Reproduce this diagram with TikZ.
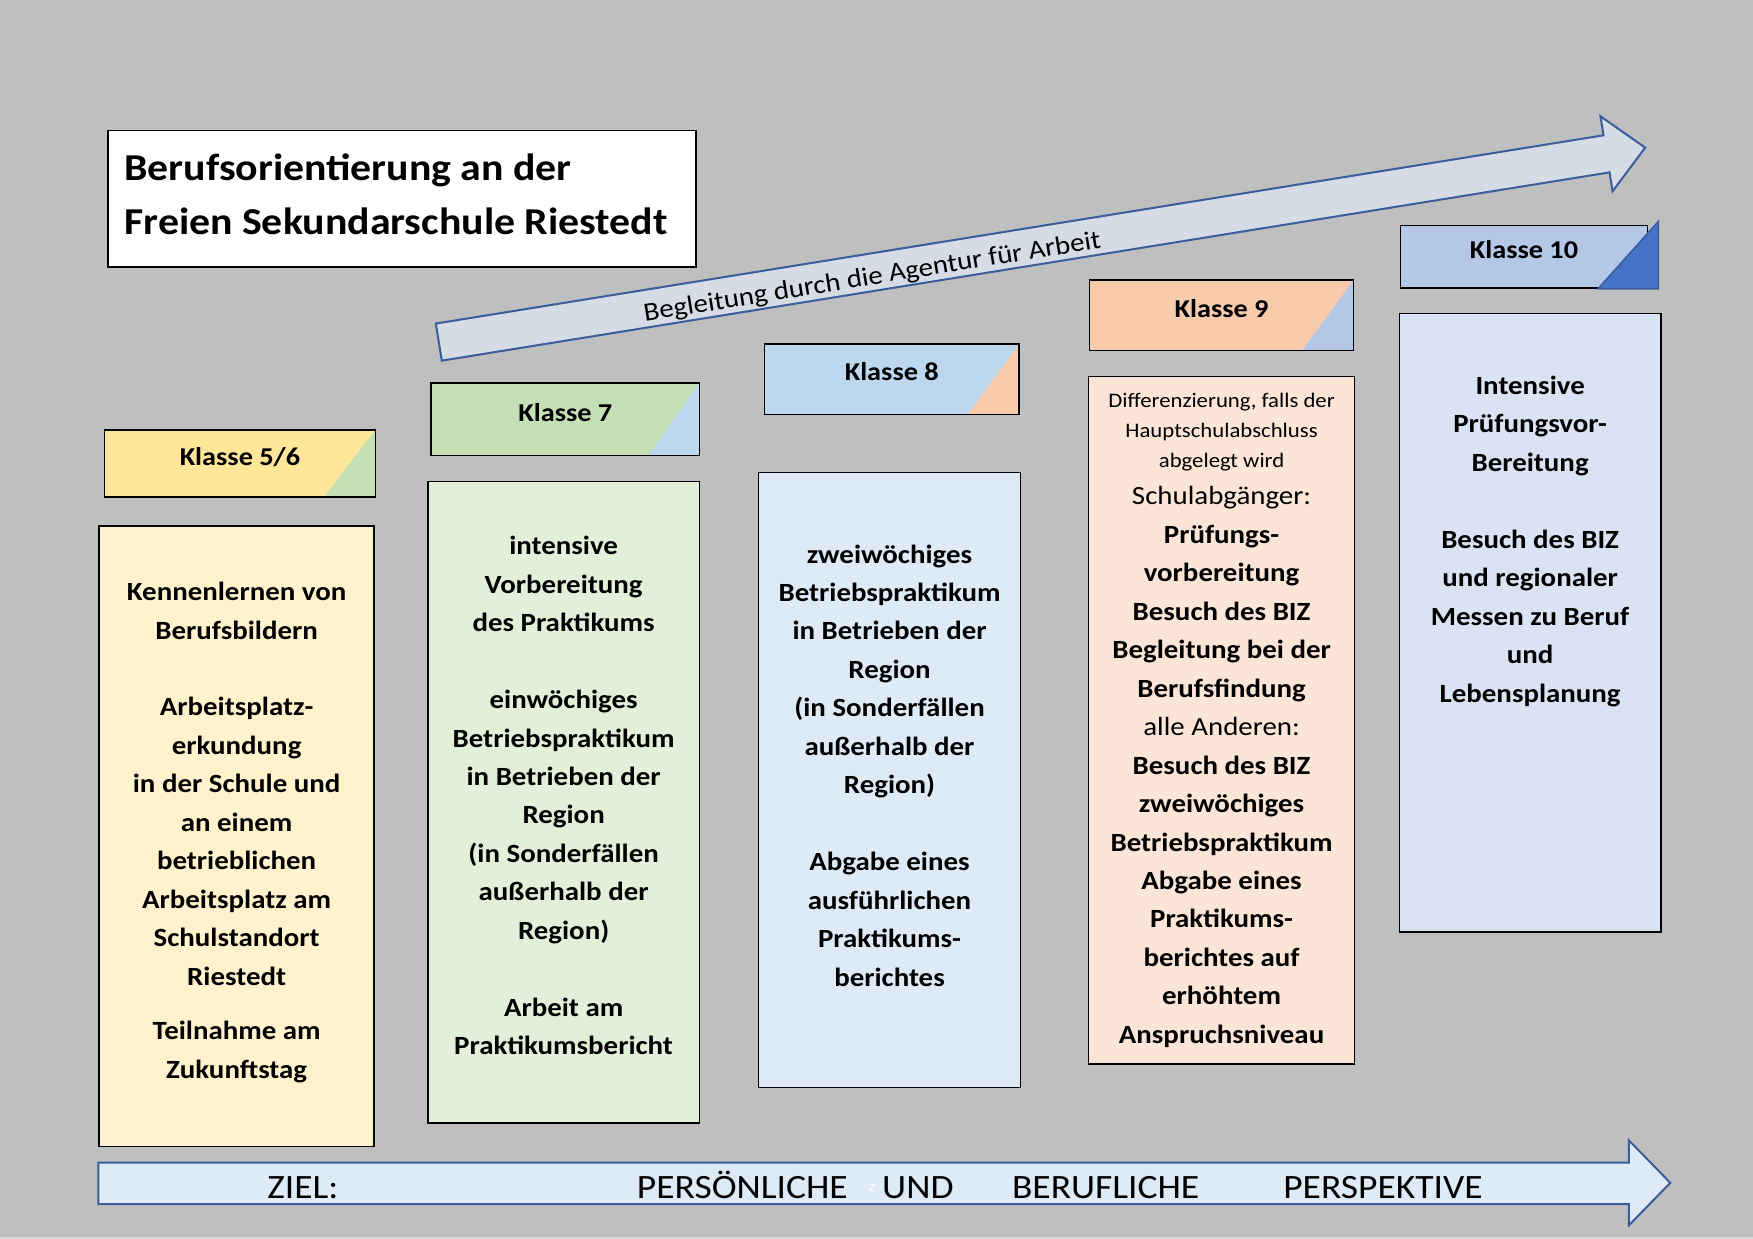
\documentclass[tikz,border=0pt]{standalone}
\usepackage{fontspec}
\setmainfont{Carlito}[FakeStretch=1.1]
\usetikzlibrary{positioning}

\definecolor{hgrau}{HTML}{BFBFBF}
\definecolor{gelb}{HTML}{FFE699}
\definecolor{gelbhell}{HTML}{FFF2CC}
\definecolor{gruen}{HTML}{C5E0B4}
\definecolor{gruenhell}{HTML}{E2F0D9}
\definecolor{blau}{HTML}{BDD7EE}
\definecolor{blauhell}{HTML}{DEEBF7}
\definecolor{lachs}{HTML}{F8CBAD}
\definecolor{lachshell}{HTML}{FBE5D6}
\definecolor{graublau}{HTML}{B4C7E7}
\definecolor{graublauhell}{HTML}{DAE3F3}
\definecolor{dunkelblau}{HTML}{4472C4}
\definecolor{rand}{HTML}{3A5E9C}
\definecolor{pfeil}{HTML}{D6DCE5}

\newcommand{\klein}{\mdseries\fontsize{18.5}{27}\selectfont}
\newcommand{\normal}{\mdseries\fontsize{23.5}{34.4}\selectfont}

\begin{document}
\begin{tikzpicture}[x=1pt, y=-1pt, semithick,
  kopf/.style 2 args={draw, line width=1.3pt, fill=#1, anchor=north west,
    font=\bfseries\fontsize{23}{28}\selectfont, text height=16pt, text depth=13pt,
    path picture={\fill[#2] (path picture bounding box.south east) -- ++(-46pt,0pt)
      -- (path picture bounding box.north east) -- cycle;}},
  kasten/.style={draw, line width=1.3pt, fill=#1, anchor=north west, inner sep=0pt},
  inhalt/.style={align=center, font=\bfseries\fontsize{23.5}{34.4}\selectfont},
  zieltext/.style={anchor=base, font=\fontsize{30.5}{36}\selectfont}]

  % Fondo
  \fill[hgrau] (0,0) rectangle (1568,1108);
  \fill[hgrau!60!white] (0,1106.5) rectangle (1568,1108);
  \useasboundingbox (0,0) rectangle (1568,1108);

  % Titulo
  \node[kasten=white, line width=1.5pt, minimum width=526pt, minimum height=122pt] (titel) at (96,116) {};
  \node[anchor=west, align=left, inner sep=0pt, font=\bfseries\fontsize{34}{48}\selectfont]
    (titeltext) at ([xshift=15pt, yshift=4pt]titel.west)
    {Berufsorientierung an der\\Freien Sekundarschule Riestedt};

  % Flecha de la Agentur
  \begin{scope}[shift={(392.5,306)}, rotate=9.16]
    \filldraw[fill=pfeil, draw=rand, line width=1.8pt]
      (0,-16.8) -- (1058,-16.8) -- (1058,-34) -- (1093,0) -- (1058,34)
      -- (1058,16.8) -- (0,16.8) -- cycle;
    \node[transform shape, font=\fontsize{23.5}{28}\selectfont] (agentur) at (392,5)
      {Begleitung durch die Agentur für Arbeit};
  \end{scope}

  % Cabeceras de las clases
  \node[kopf={gelb}{gruen}, minimum width=242pt, minimum height=60pt] (k56) at (93,384) {Klasse 5/6};
  \node[kopf={gruen}{blau}, minimum width=240pt, minimum height=65pt] (k7) at (385,342) {Klasse 7};
  \node[kopf={blau}{lachs}, minimum width=228pt, minimum height=63pt] (k8) at (683,307) {Klasse 8};
  \node[kopf={lachs}{graublau}, minimum width=236pt, minimum height=63pt] (k9) at (974,250) {Klasse 9};
  \node[kopf={graublau}{graublau}, minimum width=221pt, minimum height=56pt] (k10) at (1252,201) {Klasse 10};
  \filldraw[fill=dunkelblau, draw=rand, line width=1.3pt] ([xshift=-45pt]k10.south east)
    -- ([xshift=9pt]k10.south east) -- ([xshift=9pt, yshift=3pt]k10.north east) -- cycle;

  % Cajas
  \node[kasten=gelbhell, minimum width=246pt, minimum height=555pt] (b56) at (88,470) {};
  \node[kasten=gruenhell, minimum width=243pt, minimum height=574pt] (b7) at (382,430) {};
  \node[kasten=blauhell, minimum width=234pt, minimum height=550pt] (b8) at (678,422) {};
  \node[kasten=lachshell, minimum width=238pt, minimum height=615pt] (b9) at (973,336) {};
  \node[kasten=graublauhell, minimum width=234pt, minimum height=553pt] (b10) at (1251,280) {};

  % Textos de las cajas
  \node[inhalt] (t56) at ([yshift=3.5pt]b56.center)
    {Kennenlernen von\\Berufsbildern\\[34.4pt]Arbeitsplatz-\\erkundung\\in der Schule und\\
     an einem\\betrieblichen\\Arbeitsplatz am\\Schulstandort\\Riestedt\\[14.6pt]
     Teilnahme am\\Zukunftstag};
  \node[inhalt] (t7) at ([yshift=6pt]b7.center)
    {intensive\\Vorbereitung\\des Praktikums\\[34.4pt]einwöchiges\\Betriebspraktikum\\
     in Betrieben der\\Region\\(in Sonderfällen\\außerhalb der\\Region)\\[34.4pt]
     Arbeit am\\Praktikumsbericht};
  \node[inhalt] (t8) at ([yshift=13pt]b8.center)
    {zweiwöchiges\\Betriebspraktikum\\in Betrieben der\\Region\\(in Sonderfällen\\
     außerhalb der\\Region)\\[34.4pt]Abgabe eines\\ausführlichen\\Praktikums-\\berichtes};
  \node[inhalt] (t9) at ([yshift=0pt]b9.center)
    {\klein Differenzierung, falls der\\[-7.4pt]\klein Hauptschulabschluss\\[-7.4pt]
     \klein abgelegt wird\\[-1pt]\normal Schulabgänger:\\Prüfungs-\\vorbereitung\\
     Besuch des BIZ\\Begleitung bei der\\Berufsfindung\\\normal alle Anderen:\\
     Besuch des BIZ\\zweiwöchiges\\Betriebspraktikum\\Abgabe eines\\Praktikums-\\
     berichtes auf\\erhöhtem\\Anspruchsniveau};
  \node[inhalt] (t10) at ([yshift=73pt]b10.center)
    {Intensive\\Prüfungsvor-\\Bereitung\\[34.4pt]Besuch des BIZ\\und regionaler\\
     Messen zu Beruf\\und\\Lebensplanung};

  % Flecha del objetivo
  \filldraw[fill=blauhell, draw=rand, line width=1.8pt]
    (88,1040) -- (1457,1040) -- (1457,1020) -- (1494,1058) -- (1457,1096)
    -- (1457,1077) -- (88,1077) -- cycle;
  \node[zieltext] (ziel) at (271,1072) {ZIEL:};
  \node[zieltext] (persoenlich) at (664,1072) {PERSÖNLICHE};
  \node[anchor=base, text=white, font=\fontsize{14}{16}\selectfont] (zklein) at (780,1066) {z};
  \node[zieltext] (und) at (821,1072) {UND};
  \node[zieltext] (beruflich) at (989,1072) {BERUFLICHE};
  \node[zieltext] (perspektive) at (1237,1072) {PERSPEKTIVE};
\end{tikzpicture}
\end{document}
